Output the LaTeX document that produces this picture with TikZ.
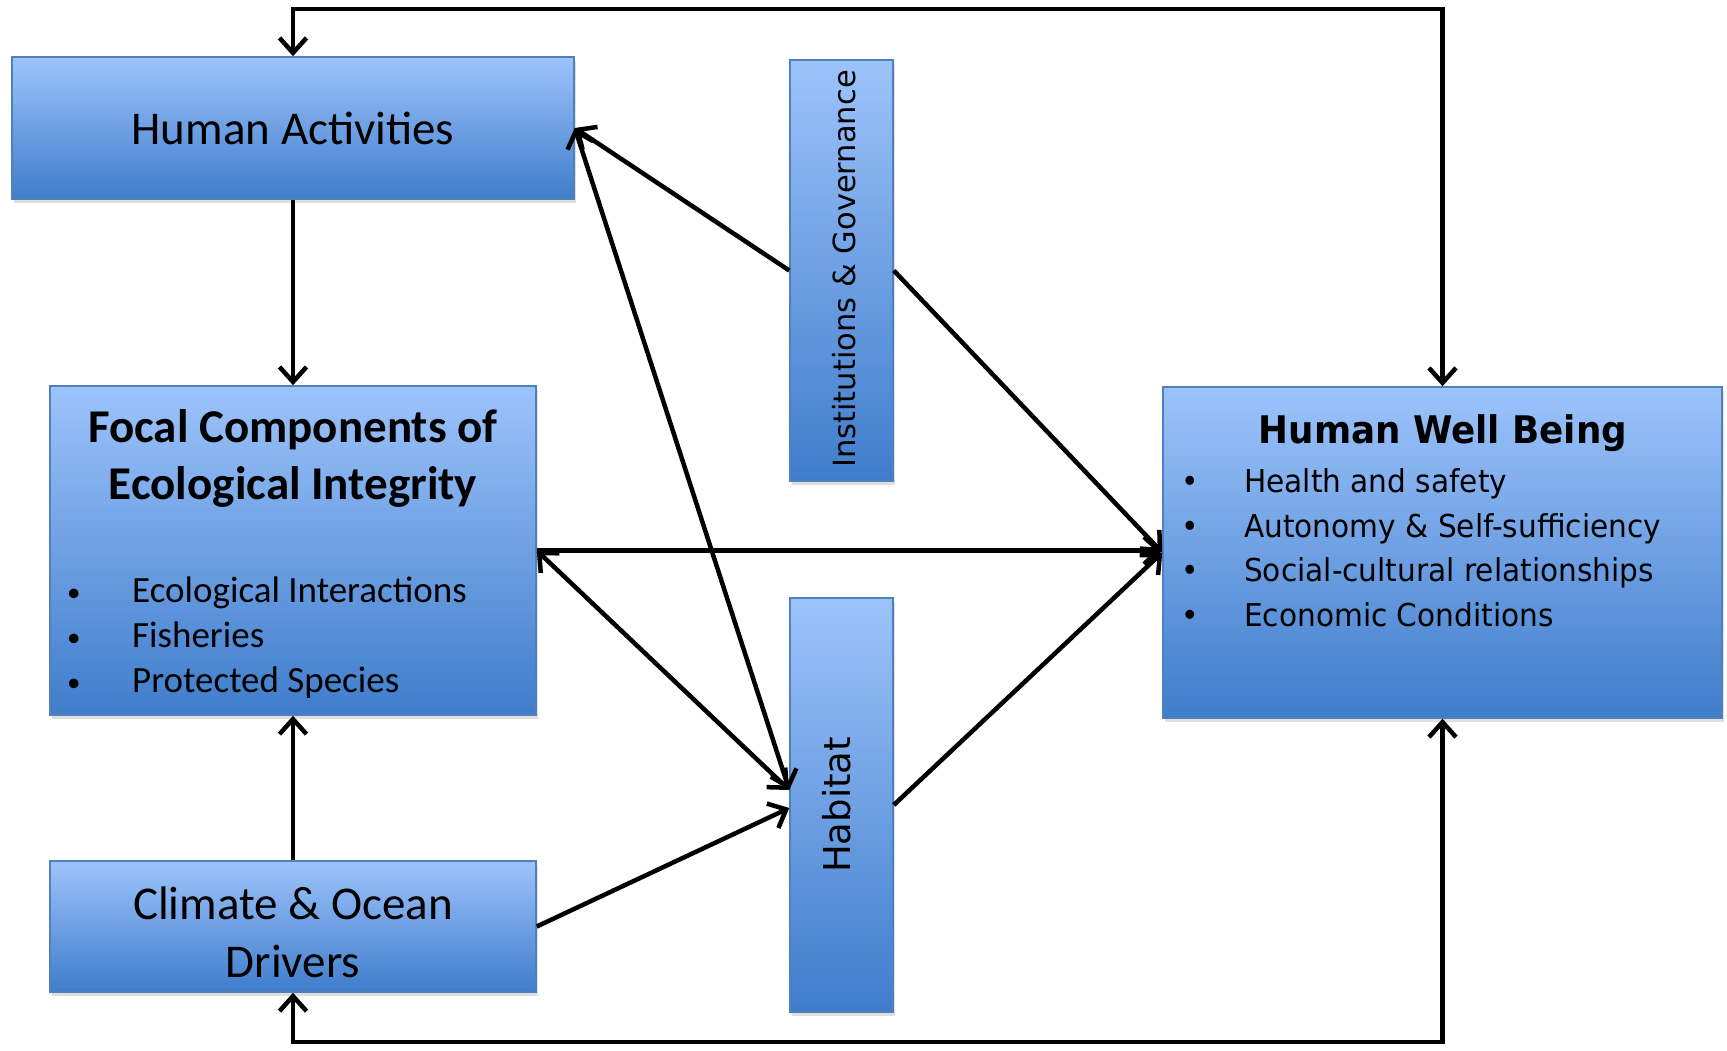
\documentclass[tikz,border=0pt]{standalone}
\usepackage{fontspec}
\setmainfont{Carlito}
\newfontfamily\verd[FakeStretch=0.94]{DejaVu Sans}
\newfontfamily\verdup{DejaVu Sans}
\usetikzlibrary{arrows.meta,shadows}
\definecolor{boxtop}{HTML}{9DC3FB}
\definecolor{boxmid}{HTML}{78A5E8}
\definecolor{boxbot}{HTML}{3F7DCB}
\definecolor{boxline}{HTML}{4F81BD}
\newcommand{\fbul}{\makebox[65pt][l]{\fontsize{27}{27}\selectfont\raisebox{1pt}{•}}}
\newcommand{\hbul}{\makebox[63pt][l]{•}}

\begin{document}
\begin{tikzpicture}[x=1pt, y=-1pt]
		\tikzset{bx/.style={rectangle, draw=boxline, line width=1.5pt, top color=boxtop, middle color=boxmid, bottom color=boxbot, drop shadow={shadow xshift=2pt, shadow yshift=-4pt, opacity=0.25}, inner sep=0pt},
			txt/.style={anchor=base, inner sep=0pt},
			big/.style={txt, font=\fontsize{47}{57}\selectfont},
			item/.style={anchor=base west, inner sep=0pt, font=\fontsize{37}{44}\selectfont},
			hitem/.style={anchor=base west, inner sep=0pt, font=\verd\fontsize{31.5}{45}\selectfont},
			arr/.style={line width=4.5pt, -{Straight Barb[length=15pt, width=27pt]}},
			dbl/.style={line width=4.5pt, {Straight Barb[length=15pt, width=27pt]}-{Straight Barb[length=15pt, width=27pt]}}};
		\useasboundingbox (0,0) rectangle (1727,1051);

		\node[bx, minimum width=562pt, minimum height=142pt] (ha) at (293, 128) {};
		\node[bx, minimum width=486pt, minimum height=329pt] (fc) at (293, 550.5) {};
		\node[bx, minimum width=486pt, minimum height=131pt] (cl) at (293, 926.5) {};
		\node[bx, minimum width=103pt, minimum height=421pt] (ig) at (841.5, 270.5) {};
		\node[bx, minimum width=103pt, minimum height=414pt] (hb) at (841.5, 805) {};
		\node[bx, minimum width=559pt, minimum height=331pt] (hw) at (1442.5, 552.5) {};

		\node[big] (hat) at (293, 145) {Human Activities};
		\node[big] (cl1) at (293, 919) {Climate \& Ocean};
		\node[big] (cl2) at (293, 977) {Drivers};

		\node[big, font=\bfseries\fontsize{47}{57}\selectfont] (fc1) at (293, 442) {Focal Components of};
		\node[big, font=\bfseries\fontsize{47}{57}\selectfont] (fc2) at (293, 499) {Ecological Integrity};
		\node[item] (fi1) at (67, 602) {\fbul Ecological Interactions};
		\node[item] (fi2) at (67, 647) {\fbul Fisheries};
		\node[item] (fi3) at (67, 692) {\fbul Protected Species};

		\node[txt, font=\verd\bfseries\fontsize{38}{45}\selectfont] (hw0) at (1443, 443) {Human Well Being};
		\node[hitem] (hi1) at (1181, 492) {\hbul Health and safety};
		\node[hitem] (hi2) at (1181, 537) {\hbul Autonomy \& Self-sufficiency};
		\node[hitem] (hi3) at (1181, 581) {\hbul Social-cultural relationships};
		\node[hitem] (hi4) at (1181, 626) {\hbul Economic Conditions};

		\node[txt, rotate=90, font=\verdup\fontsize{30.5}{36}\selectfont] (igt) at (855, 269) {Institutions \& Governance};
		\node[txt, rotate=90, font=\verdup\fontsize{37}{44}\selectfont] (hbt) at (850, 805) {Habitat};

		\coordinate (tl) at (293, 9);
		\coordinate (bl) at (293, 1042);

		\draw[dbl] (ha.north) -- (tl) -| (hw.north);
		\draw[dbl] (cl.south) -- (bl) -| (hw.south);

		\draw[arr] (ha.south) -- (fc.north);
		\draw[arr] (cl.north) -- (fc.south);

		\draw[arr] (ig.west) -- (ha.east);
		\draw[dbl] (ha.east) -- ([yshift=15pt]hb.west);
		\draw[dbl] (fc.east) -- ([yshift=15pt]hb.west);
		\draw[arr] (cl.east) -- ([yshift=-3pt]hb.west);

		\draw[arr] (fc.east) -- (fc.east -| hw.west);
		\draw[arr] (ig.east) -- (hw.west);
		\draw[arr] (hb.east) -- (hw.west);

	\end{tikzpicture}
\end{document}
